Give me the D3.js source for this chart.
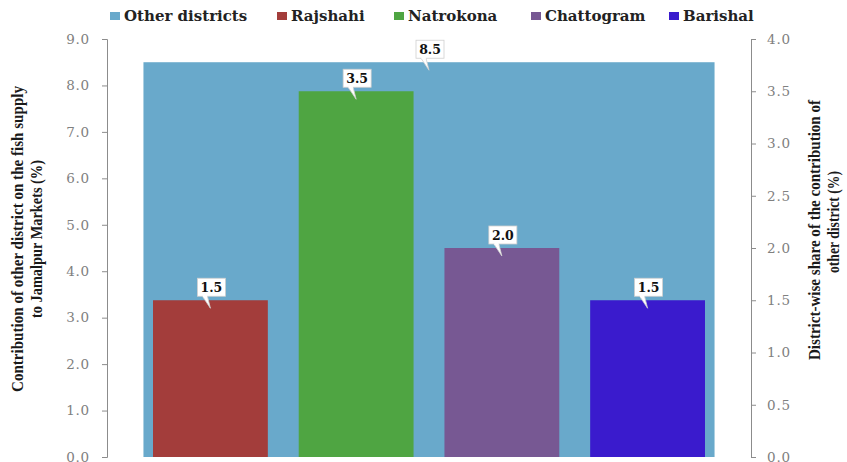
<!DOCTYPE html>
<html>
<head>
<meta charset="utf-8">
<script src="https://cdn.jsdelivr.net/npm/d3@7"></script>
<style>
  html, body { margin: 0; padding: 0; background: #fff; }
  svg { display: block; }
</style>
</head>
<body>
<svg id="chart" width="847" height="462"></svg>
<script>
// Aggregate share of fish supplied by other districts (left axis)
const totalLabel = "Other districts";
const totalValue = [8.5];

// District-wise breakdown (right axis)
const districts = ["Rajshahi", "Natrokona", "Chattogram", "Barishal"];
const districtValues = [1.5, 3.5, 2.0, 1.5];

const leftTicks = [0, 1, 2, 3, 4, 5, 6, 7, 8, 9];
const rightTicks = [0, 0.5, 1, 1.5, 2, 2.5, 3, 3.5, 4];

const leftTitle = ["Contribution of other district on the fish supply", "to Jamalpur Markets (%)"];
const rightTitle = ["District-wise share of the contribution of", "other district (%)"];

const colors = {
  "Other districts": "#69a9cb",
  "Rajshahi": "#a33d3b",
  "Natrokona": "#4fa542",
  "Chattogram": "#775893",
  "Barishal": "#3a1bcd"
};

const svg = d3.select("#chart");
const plot = { left: 107, right: 751, top: 39, bottom: 457 };

const yLeft = d3.scaleLinear().domain([0, 9]).range([plot.bottom, plot.top]);
const yRight = d3.scaleLinear().domain([0, 4]).range([plot.bottom, plot.top]);

const xTotal = d3.scaleBand().domain([totalLabel]).range([plot.left, plot.right]).padding(0.06);
const xDist = d3.scaleBand().domain(districts).range([153, 705]).paddingInner(0.212).paddingOuter(0);

// Background bar for all other districts
svg.append("rect")
  .attr("x", xTotal(totalLabel))
  .attr("y", yLeft(totalValue[0]))
  .attr("width", xTotal.bandwidth())
  .attr("height", yLeft(0) - yLeft(totalValue[0]))
  .attr("fill", colors[totalLabel]);

// District bars
svg.selectAll("rect.dist")
  .data(districts)
  .join("rect")
  .attr("class", "dist")
  .attr("x", d => xDist(d))
  .attr("y", (d, i) => yRight(districtValues[i]))
  .attr("width", xDist.bandwidth())
  .attr("height", (d, i) => yRight(0) - yRight(districtValues[i]))
  .attr("fill", d => colors[d]);

// Axes
const leftAxis = svg.append("g")
  .attr("transform", `translate(${plot.left},0)`)
  .call(d3.axisLeft(yLeft).tickValues(leftTicks).tickFormat(d3.format(".1f")).tickSize(5).tickPadding(12));
const rightAxis = svg.append("g")
  .attr("transform", `translate(${plot.right},0)`)
  .call(d3.axisRight(yRight).tickValues(rightTicks).tickFormat(d3.format(".1f")).tickSize(5).tickPadding(11));

[leftAxis, rightAxis].forEach(ax => {
  ax.attr("font-family", "DejaVu Serif").attr("font-size", 13.5);
  ax.select(".domain").attr("stroke", "#8c8c8c").attr("stroke-width", 1);
  ax.selectAll(".tick line").attr("stroke", "#8c8c8c");
  ax.selectAll(".tick text")
    .attr("fill", "#808080")
    .attr("letter-spacing", 0.8);
});

// Callout labels: white box with a small pointer down onto the bar top
function callout(cx, topY, text) {
  const g = svg.append("g");
  const w = 28, h = 18;
  const bx = cx - w / 2 + 1, by = topY - h - 4;
  const stroke = "#cfcfcf";
  g.append("rect")
    .attr("x", bx).attr("y", by).attr("width", w).attr("height", h)
    .attr("fill", "#fff").attr("stroke", stroke).attr("stroke-width", 0.8);
  g.append("path")
    .attr("d", `M${cx - 8},${by + h} L${cx},${topY + 8} L${cx - 3},${by + h}`)
    .attr("fill", "#fff").attr("stroke", stroke).attr("stroke-width", 0.8);
  g.append("rect")
    .attr("x", cx - 7.5).attr("y", by + h - 1.5).attr("width", 4.2).attr("height", 2.5)
    .attr("fill", "#fff");
  g.append("text")
    .attr("x", bx + w / 2).attr("y", by + h / 2 + 4.6)
    .attr("text-anchor", "middle")
    .attr("font-family", "DejaVu Serif")
    .attr("font-weight", "bold")
    .attr("font-size", 12.5)
    .attr("fill", "#111")
    .text(text);
}

callout(xTotal(totalLabel) + xTotal.bandwidth() / 2, yLeft(totalValue[0]), d3.format(".1f")(totalValue[0]));
districts.forEach((d, i) => {
  callout(xDist(d) + xDist.bandwidth() / 2, yRight(districtValues[i]), d3.format(".1f")(districtValues[i]));
});

// Axis titles (rotated, two lines each)
function titleLine(x, y, text, len) {
  svg.append("text")
    .attr("transform", `translate(${x},${y}) rotate(-90)`)
    .attr("text-anchor", "middle")
    .attr("font-family", "Liberation Serif")
    .attr("font-weight", "bold")
    .attr("font-size", 16.5)
    .attr("fill", "#1a1a1a")
    .attr("textLength", len)
    .attr("lengthAdjust", "spacingAndGlyphs")
    .text(text);
}
titleLine(23, 239, leftTitle[0], 306);
titleLine(42, 239, leftTitle[1], 158);
titleLine(820, 230, rightTitle[0], 260);
titleLine(839, 222, rightTitle[1], 102);

// Legend
const legendItems = [totalLabel].concat(districts);
const legendX = [110, 277, 394, 531, 669];
legendItems.forEach((name, i) => {
  const g = svg.append("g").attr("transform", `translate(${legendX[i]},0)`);
  g.append("rect").attr("x", 0).attr("y", 12).attr("width", 10).attr("height", 8).attr("fill", colors[name]);
  g.append("text")
    .attr("x", 14).attr("y", 21)
    .attr("font-family", "DejaVu Serif")
    .attr("font-weight", "bold")
    .attr("font-size", 15)
    .attr("fill", "#222")
    .text(name);
});
</script>
</body>
</html>
